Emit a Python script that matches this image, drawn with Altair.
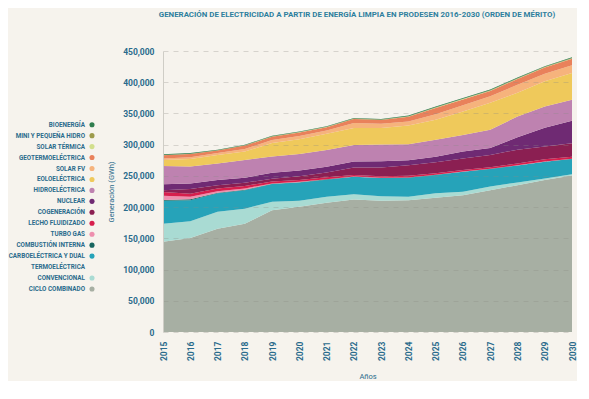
import altair as alt
import pandas as pd

FONT = "Roboto"
TXT = "#2a6b8c"
TITLE_C = "#2e7f9e"
BG = "#f6f3ed"

anios = [2015, 2016, 2017, 2018, 2019, 2020, 2021, 2022, 2023, 2024, 2025, 2026, 2027, 2028, 2029, 2030]

ciclo_combinado = [144500, 150500, 165500, 173500, 195000, 200500, 207000, 212000, 210000, 211000, 215000, 219000, 227000, 235000, 243500, 250500]
convencional = [29000, 27000, 27000, 24000, 13500, 9500, 9500, 8500, 7500, 5500, 7000, 5500, 6000, 4500, 2500, 2000]
carboelectrica = [36500, 33500, 29500, 29500, 28500, 29500, 27500, 28000, 29000, 30500, 29500, 32000, 28000, 27000, 26500, 24500]
combustion_interna = [1500, 1500, 1000, 1000, 500, 500, 500, 300, 300, 300, 300, 300, 300, 300, 300, 300]
turbo_gas = [6500, 4000, 2500, 2000, 500, 500, 300, 200, 200, 200, 200, 200, 200, 200, 200, 200]
lecho_fluidizado = [6000, 5000, 4500, 4000, 3000, 3000, 3000, 2500, 2300, 2700, 2300, 2500, 2500, 3000, 3500, 3300]
cogeneracion = [3000, 7500, 5000, 5000, 4500, 6000, 7500, 12000, 14000, 17000, 17500, 18500, 19500, 22000, 20500, 21500]
nuclear = [9700, 9000, 8500, 8000, 9500, 9000, 9500, 9500, 10000, 8000, 9000, 11000, 11000, 20000, 30000, 36000]
hidroelectrica = [29000, 27000, 26500, 28500, 26000, 26500, 26500, 26500, 27000, 25500, 27000, 26500, 29500, 33000, 34000, 33500]
eoloelectrica = [9700, 12000, 13500, 13500, 21500, 23500, 26000, 27000, 26300, 30000, 32000, 37500, 43000, 38000, 40500, 43000]
solar_fv = [2600, 3000, 3000, 4000, 5000, 5500, 5500, 8000, 6800, 6500, 9000, 10000, 10500, 13000, 12000, 12300]
geotermoelectrica = [5000, 5000, 4000, 5500, 5000, 5500, 5000, 6500, 6000, 7500, 10000, 9500, 8500, 9000, 10000, 10500]
solar_termica = [0, 0, 0, 0, 300, 300, 300, 300, 300, 500, 500, 500, 500, 500, 500, 500]
mini_hidro = [500, 500, 500, 500, 500, 500, 500, 500, 500, 500, 700, 700, 700, 700, 700, 700]
bioenergia = [1000, 1000, 800, 800, 800, 800, 800, 800, 800, 1000, 1200, 1200, 1200, 1200, 1000, 1200]

series = ["CICLO COMBINADO", "TERMOELÉCTRICA CONVENCIONAL", "CARBOELÉCTRICA Y DUAL",
          "COMBUSTIÓN INTERNA", "TURBO GAS", "LECHO FLUIDIZADO", "COGENERACIÓN", "NUCLEAR",
          "HIDROELÉCTRICA", "EOLOELÉCTRICA", "SOLAR FV", "GEOTERMOELÉCTRICA", "SOLAR TÉRMICA",
          "MINI Y PEQUEÑA HIDRO", "BIOENERGÍA"]
colores = ["#a7afa3", "#a9dbd3", "#26a3b9", "#17655f", "#ee8fae", "#d71f4d", "#8b1f52",
           "#6f2a73", "#be82b0", "#efc95b", "#f6b37c", "#e9815b", "#d2df8c", "#9d9b4c", "#2f7d4e"]
valores = [ciclo_combinado, convencional, carboelectrica, combustion_interna, turbo_gas,
           lecho_fluidizado, cogeneracion, nuclear, hidroelectrica, eoloelectrica, solar_fv,
           geotermoelectrica, solar_termica, mini_hidro, bioenergia]

leyenda_textos = ["BIOENERGÍA", "MINI Y PEQUEÑA HIDRO", "SOLAR TÉRMICA", "GEOTERMOELÉCTRICA",
                  "SOLAR FV", "EOLOELÉCTRICA", "HIDROELÉCTRICA", "NUCLEAR", "COGENERACIÓN",
                  "LECHO FLUIDIZADO", "TURBO GAS", "COMBUSTIÓN INTERNA", "CARBOELÉCTRICA Y DUAL",
                  "TERMOELÉCTRICA", "CONVENCIONAL", "CICLO COMBINADO"]
leyenda_serie = ["BIOENERGÍA", "MINI Y PEQUEÑA HIDRO", "SOLAR TÉRMICA", "GEOTERMOELÉCTRICA",
                 "SOLAR FV", "EOLOELÉCTRICA", "HIDROELÉCTRICA", "NUCLEAR", "COGENERACIÓN",
                 "LECHO FLUIDIZADO", "TURBO GAS", "COMBUSTIÓN INTERNA", "CARBOELÉCTRICA Y DUAL",
                 None, "TERMOELÉCTRICA CONVENCIONAL", "CICLO COMBINADO"]

y_ticks = [0, 50000, 100000, 150000, 200000, 250000, 300000, 350000, 400000, 450000]

rows = []
for orden, (s, vals) in enumerate(zip(series, valores)):
    for a, v in zip(anios, vals):
        rows.append({"anio": a, "serie": s, "orden": orden, "gwh": v})
df = pd.DataFrame(rows)

ley_df = pd.DataFrame({
    "fila": list(range(len(leyenda_textos))),
    "texto": leyenda_textos,
    "serie": leyenda_serie,
    "pos": [1] * len(leyenda_textos),
})

color_scale = alt.Scale(domain=series, range=colores)

base_ley = alt.Chart(ley_df).encode(
    y=alt.Y("fila:Q", scale=alt.Scale(domain=[-6.73, 18.93], reverse=True, nice=False, zero=False), axis=None),
    x=alt.X("pos:Q", scale=alt.Scale(domain=[0, 1], nice=False), axis=None),
)
ley_text = base_ley.mark_text(align="right", baseline="middle", dx=-7, font=FONT,
                              fontSize=6.3, fontWeight="bold", color=TXT).encode(text="texto:N")
ley_pts = base_ley.transform_filter("isValid(datum.serie)").mark_circle(size=26, opacity=1).encode(
    color=alt.Color("serie:N", scale=color_scale, legend=None)
)
leyenda = (ley_text + ley_pts).properties(width=79, height=281)

area = alt.Chart(df).mark_area(interpolate="linear", opacity=1).encode(
    x=alt.X("anio:Q",
            scale=alt.Scale(domain=[2015, 2030], nice=False, zero=False),
            axis=alt.Axis(values=anios, format="d", labelAngle=-90, labelAlign="right",
                          labelBaseline="middle", ticks=False, labelPadding=9, domain=False,
                          grid=False, title="Años", titlePadding=12,
                          labelFont=FONT, labelFontSize=8.5, labelFontWeight="bold", labelColor=TXT,
                          titleFont=FONT, titleFontSize=7.5, titleFontWeight="normal", titleColor=TXT,
                          labelFlush=False, labelOverlap=False)),
    y=alt.Y("gwh:Q", stack="zero",
            scale=alt.Scale(domain=[0, 450000], nice=False),
            axis=alt.Axis(values=y_ticks, format=",d", ticks=False, labelPadding=9,
                          domain=True, domainColor="#cfcdc6", domainWidth=1,
                          grid=True, gridDash=[5, 5], gridColor="#8c8c84", gridOpacity=0.3,
                          zindex=1, title="Generación (GWh)", titlePadding=7,
                          labelFont=FONT, labelFontSize=8.5, labelFontWeight="bold", labelColor=TXT,
                          titleFont=FONT, titleFontSize=7.5, titleFontWeight="normal", titleColor=TXT,
                          labelOverlap=False)),
    color=alt.Color("serie:N", scale=color_scale, legend=None),
    order=alt.Order("orden:Q", sort="ascending"),
).properties(width=409, height=281)

chart = alt.hconcat(leyenda, area, spacing=12).properties(
    title=alt.TitleParams(
        "GENERACIÓN DE ELECTRICIDAD A PARTIR DE ENERGÍA LIMPIA EN PRODESEN 2016-2030 (ORDEN DE MÉRITO)",
        anchor="start", dx=150, font=FONT, fontSize=7.9, fontWeight="bold", color=TITLE_C, offset=28),
    background=BG,
    padding={"left": 0, "top": 3, "right": 0, "bottom": 0},
).configure_view(stroke=None)

chart.save("out.html", embed_options={"renderer": "svg", "actions": False})
